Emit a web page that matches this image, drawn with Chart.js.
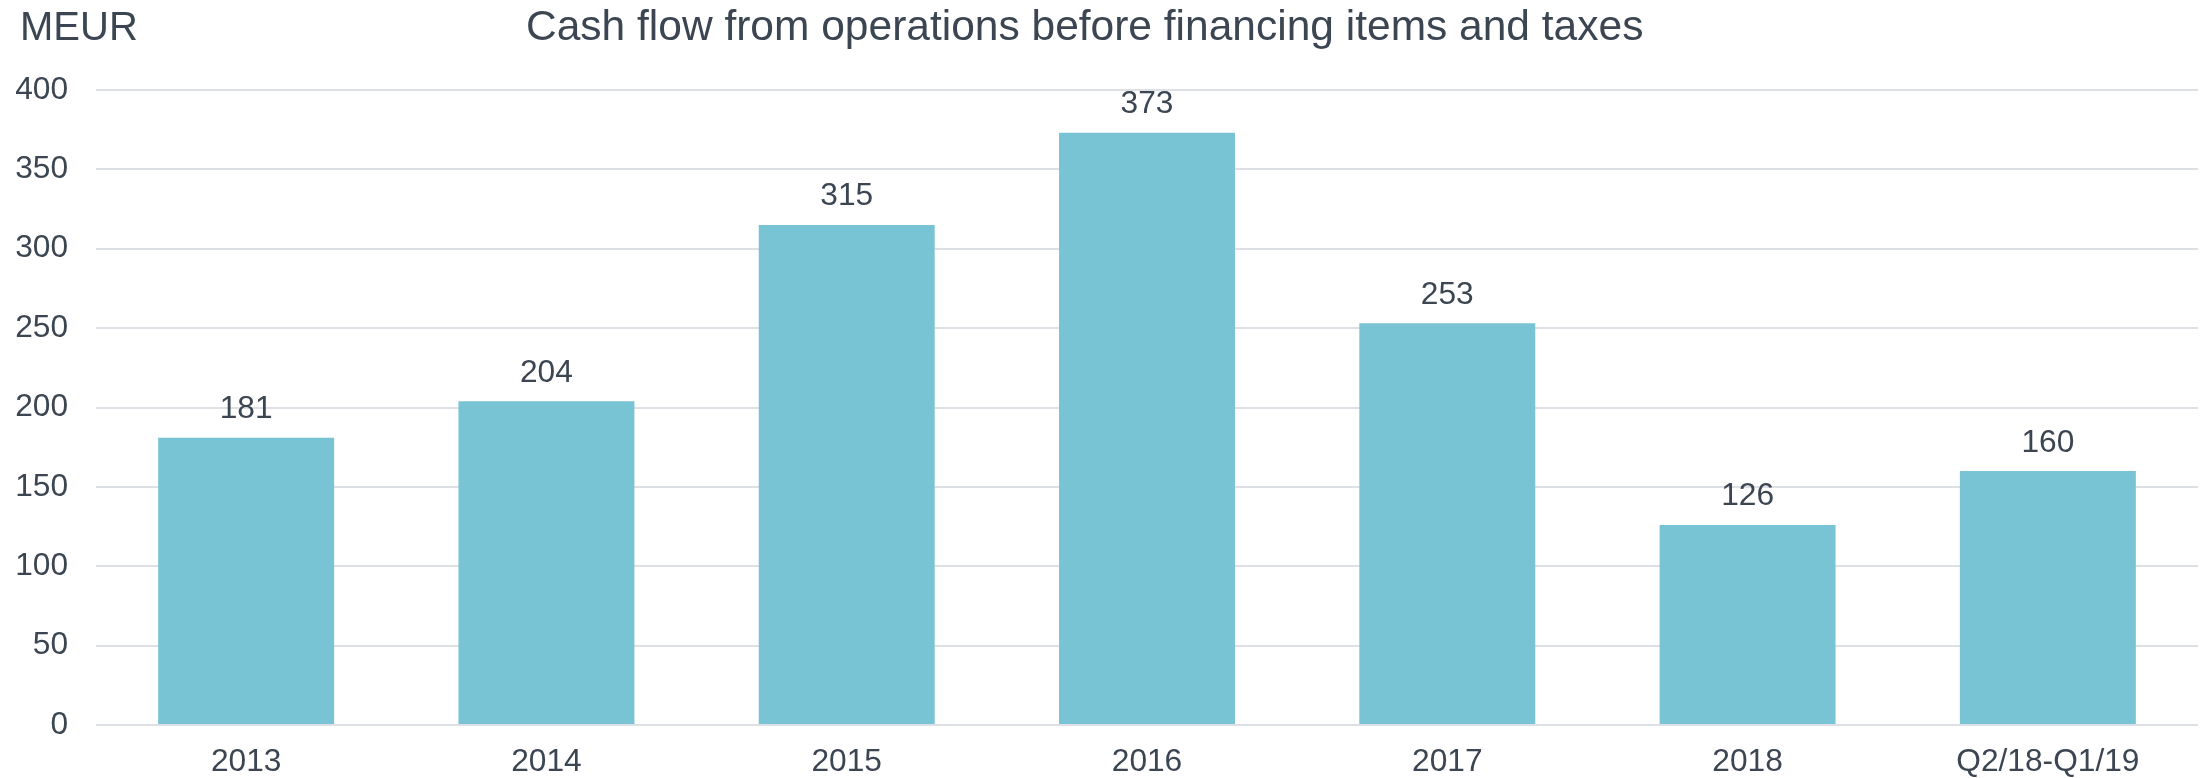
<!DOCTYPE html>
<html>
<head>
<meta charset="utf-8">
<script src="https://cdn.jsdelivr.net/npm/chart.js@4.4.1/dist/chart.umd.min.js"></script>
<style>
  html, body { margin: 0; padding: 0; background: #fff; }
  canvas { display: block; }
</style>
</head>
<body>
<canvas id="cashChart" width="2201" height="778"></canvas>
<script>
// Cash flow per period (MEUR)
const periods = ["2013", "2014", "2015", "2016", "2017", "2018", "Q2/18-Q1/19"];
const cashFlow = [181, 204, 315, 373, 253, 126, 160];
const yTicks = [0, 50, 100, 150, 200, 250, 300, 350, 400];

const unitLabel = "MEUR";
const chartTitle = "Cash flow from operations before financing items and taxes";

const FONT = "'Liberation Sans', Arial, sans-serif";
const TEXT = "#3b4652";
const BAR = "#79c4d4";
const GRID = "#dde1e6";

// header texts + value labels above bars
const annotate = {
  id: "annotate",
  afterDatasetsDraw(chart) {
    const { ctx } = chart;
    ctx.save();
    ctx.fillStyle = TEXT;
    ctx.textBaseline = "alphabetic";
    ctx.textAlign = "left";

    ctx.font = `40px ${FONT}`;
    ctx.fillText(unitLabel, 20, 39.5);

    ctx.font = `42.5px ${FONT}`;
    ctx.fillText(chartTitle, 526, 40);

    ctx.textAlign = "center";
    ctx.font = `31.7px ${FONT}`;
    const meta = chart.getDatasetMeta(0);
    meta.data.forEach((bar, i) => {
      ctx.fillText(String(cashFlow[i]), bar.x, bar.y - 19.5);
    });
    ctx.restore();
  },
};

new Chart(document.getElementById("cashChart"), {
  type: "bar",
  data: {
    labels: periods,
    datasets: [
      {
        data: cashFlow,
        backgroundColor: BAR,
        barPercentage: 0.586,
        categoryPercentage: 1,
      },
    ],
  },
  options: {
    responsive: false,
    animation: false,
    devicePixelRatio: 1,
    layout: { padding: { top: 90, right: 3, bottom: 0, left: 0 } },
    plugins: {
      legend: { display: false },
      tooltip: { enabled: false },
      title: { display: false },
    },
    scales: {
      x: {
        grid: { display: false, drawTicks: false },
        border: { display: false },
        ticks: { color: TEXT, font: { family: FONT, size: 31.7 }, padding: 18, maxRotation: 0 },
        afterFit: (scale) => { scale.height = 53; },
      },
      y: {
        min: 0,
        max: 400,
        afterBuildTicks: (scale) => { scale.ticks = yTicks.map((v) => ({ value: v })); },
        grid: { color: GRID, lineWidth: 2, drawTicks: false },
        border: { display: false },
        ticks: { color: TEXT, font: { family: FONT, size: 31.7 }, padding: 28 },
        afterFit: (scale) => { scale.width = 96; },
      },
    },
  },
  plugins: [annotate],
});
</script>
</body>
</html>
